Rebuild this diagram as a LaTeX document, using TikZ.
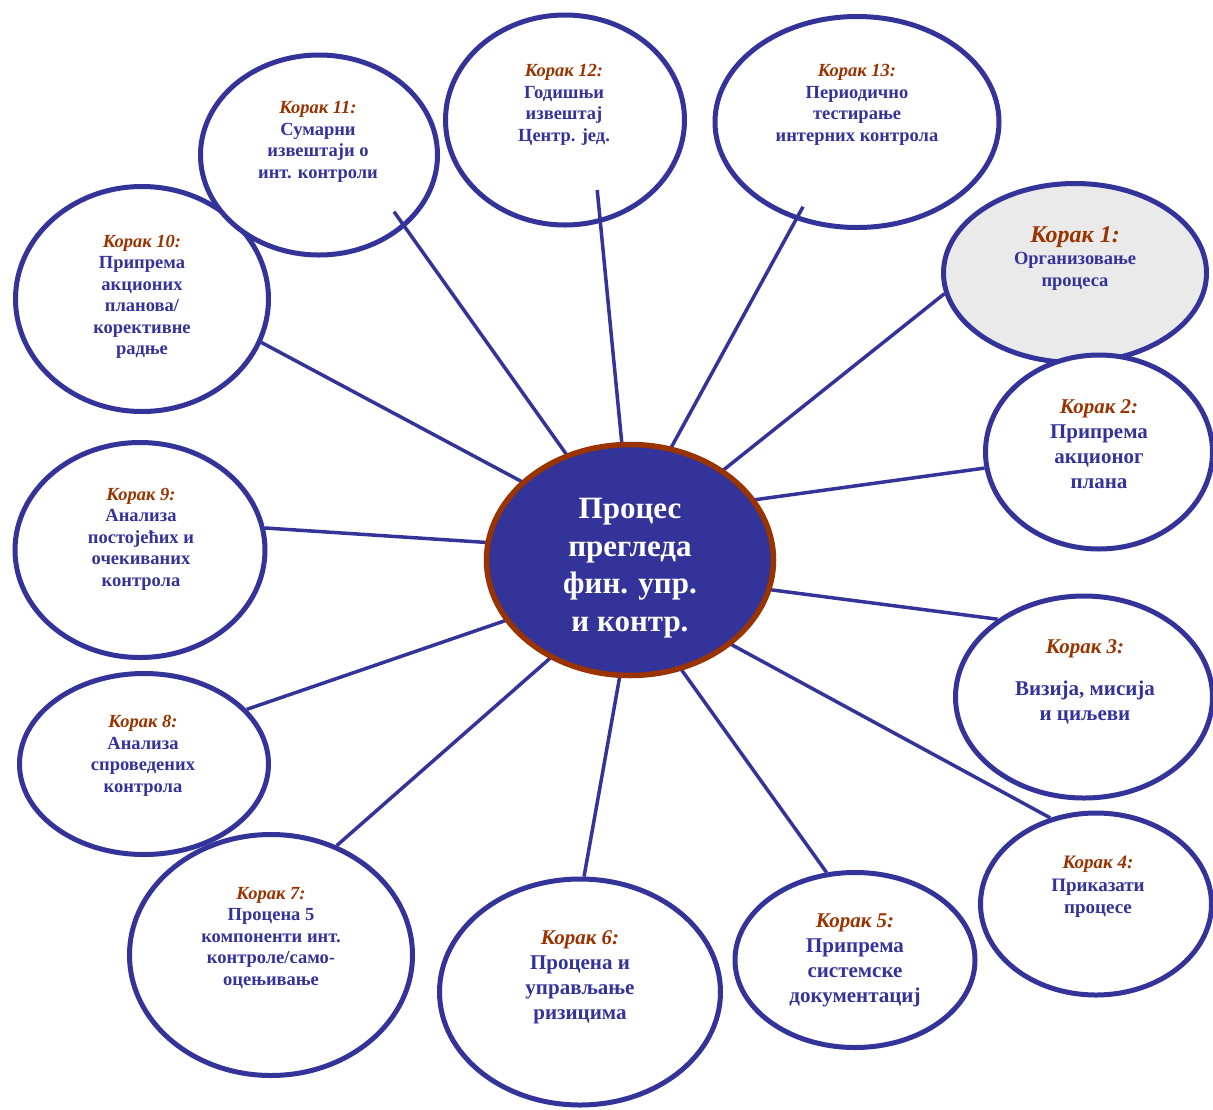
\documentclass[tikz,border=0pt]{standalone}
\usepackage{fontspec}
\setmainfont{Liberation Serif}
\usetikzlibrary{shapes.geometric}
\definecolor{stepblue}{RGB}{51,51,153}
\definecolor{stepred}{RGB}{153,51,0}
\definecolor{stepgray}{RGB}{234,234,234}
\newcommand{\korak}[1]{\textcolor{stepred}{\itshape #1}}
\tikzset{every picture/.style={line width=0.75pt}}

\begin{document}
\begin{tikzpicture}[x=1pt,y=1pt,yscale=-1,xscale=1,
  oval/.style={ellipse, draw=stepblue, line width=5pt, fill=white, inner sep=0pt},
  spoke/.style={draw=stepblue, line width=3.5pt},
  steptext/.style={text=stepblue, font=\bfseries\fontsize{18.5}{21.5}\selectfont, align=center, inner sep=0.75pt},
  bigtext/.style={steptext, font=\bfseries\fontsize{21}{25}\selectfont}]
\useasboundingbox (0,0) rectangle (1213,1109);

%Shape: Ellipse [Korak 1 .. 13]
\node [oval, fill=stepgray, minimum width=263pt, minimum height=179pt] (k1) at (1075,273) {};
\node [oval, minimum width=227pt, minimum height=194pt] (k2) at (1099,452) {};
\node [oval, minimum width=257pt, minimum height=202pt] (k3) at (1084,697) {};
\node [oval, minimum width=231pt, minimum height=182pt] (k4) at (1096,904) {};
\node [oval, minimum width=240pt, minimum height=175pt] (k5) at (855,960) {};
\node [oval, minimum width=281pt, minimum height=226pt] (k6) at (580,992) {};
\node [oval, minimum width=283pt, minimum height=241pt] (k7) at (271,955) {};
\node [oval, minimum width=249pt, minimum height=181pt] (k8) at (144,764) {};
\node [oval, minimum width=250pt, minimum height=215pt] (k9) at (140,550) {};
\node [oval, minimum width=253pt, minimum height=225pt] (k10) at (142,299) {};
\node [oval, minimum width=237pt, minimum height=200pt] (k11) at (319,155) {};
\node [oval, minimum width=239pt, minimum height=210pt] (k12) at (565,120) {};
\node [oval, minimum width=284pt, minimum height=211pt] (k13) at (857,122) {};

%Shape: Ellipse [centre]
\coordinate (c0) at (630,560);
\node [ellipse, inner sep=0pt, minimum width=287pt, minimum height=231pt] (c) at (c0) {};

%Straight Lines
\draw [spoke] (c.44) -- (k1.189);
\draw [spoke] (c.26) -- (k2.188);
\draw [spoke] (c.-12) -- (k3.138);
\draw [spoke] (c.-40) -- (k4.118);
\draw [spoke] (c.-65) -- (k5.108);
\draw [spoke] (c.-95) -- (k6.88);
\draw [spoke] (c.-129) -- (k7.59);
\draw [spoke] (c.206) -- (k8.28);
\draw [spoke] (c.173) -- (k9.10);
\draw [spoke] (c.144) -- (k10.-20);
\draw [spoke, shorten >=-19pt] (c.121) -- (k11.-40);
\draw [spoke, shorten >=-33pt] (c.94) -- (k12.-71);
\draw [spoke, shorten >=-15pt] (c.70) -- (k13.-122);

%Shape: Ellipse [centre, on top of the lines]
\node [ellipse, draw=stepred, fill=stepblue, line width=5.5pt, inner sep=0pt, minimum width=287pt, minimum height=231pt] (cc) at (c0) {};

% Text Node
\node [steptext, font=\bfseries\fontsize{31}{37.5}\selectfont, text=white] (tc) at (630,568) {Процес\\прегледа\\фин. упр.\\и контр.};
% Text Node
\node [steptext, font=\bfseries\fontsize{18.5}{22}\selectfont] (t1) at (1075,259) {{\fontsize{24}{24}\selectfont\korak{Корак 1:}}\\Организовање\\процеса};
% Text Node
\node [bigtext] (t2) at (1099,444) {\korak{Корак 2:}\\Припрема\\акционог\\плана};
% Text Node
\node [bigtext] (t3) at (1085,682) {\korak{Корак 3:}\\[17pt]Визија, мисија\\и циљеви};
% Text Node
\node [steptext, font=\bfseries\fontsize{19}{22.5}\selectfont] (t4) at (1098,887) {\korak{Корак 4:}\\Приказати\\процесе};
% Text Node
\node [bigtext] (t5) at (855,960) {\korak{Корак 5:}\\Припрема\\системске\\документациј};
% Text Node
\node [bigtext] (t6) at (580,977) {\korak{Корак 6:}\\Процена и\\управљање\\ризицима};
% Text Node
\node [steptext] (t7) at (271,938) {\korak{Корак 7:}\\Процена 5\\компоненти инт.\\контроле/само-\\оцењивање};
% Text Node
\node [steptext] (t8) at (143,756) {\korak{Корак 8:}\\Анализа\\спроведених\\контрола};
% Text Node
\node [steptext] (t9) at (141,539) {\korak{Корак 9:}\\Анализа\\постојећих и\\очекиваних\\контрола};
% Text Node
\node [steptext] (t10) at (142,297) {\korak{Корак 10:}\\Припрема\\акционих\\планова/\\корективне\\радње};
% Text Node
\node [steptext] (t11) at (318,142) {\korak{Корак 11:}\\Сумарни\\извештаји о\\инт. контроли};
% Text Node
\node [steptext] (t12) at (564,105) {\korak{Корак 12:}\\Годишњи\\извештај\\Центр. јед.};
% Text Node
\node [steptext] (t13) at (857,105) {\korak{Корак 13:}\\Периодично\\тестирање\\интерних контрола};

\end{tikzpicture}
\end{document}
